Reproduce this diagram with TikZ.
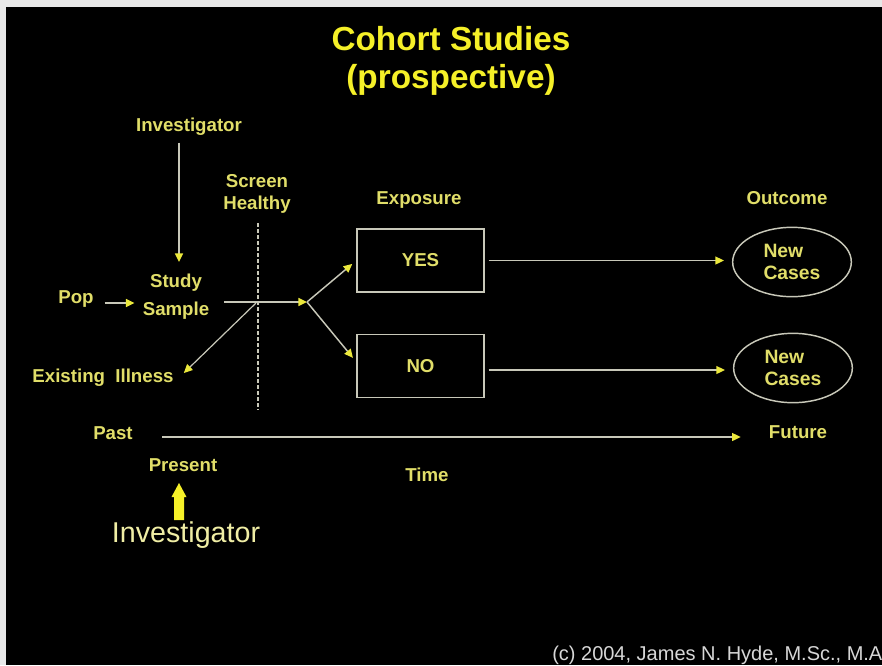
\documentclass[tikz,border=0pt]{standalone}
\usepackage{fontspec}
\setmainfont{Liberation Sans}
\usetikzlibrary{arrows.meta,shapes.geometric}
\definecolor{frame}{RGB}{232,232,232}
\definecolor{ttl}{RGB}{245,240,40}
\definecolor{lbl}{RGB}{225,222,105}
\definecolor{bigy}{RGB}{240,238,165}
\definecolor{ln}{RGB}{200,200,185}
\definecolor{tipy}{RGB}{235,232,60}
\definecolor{cpy}{RGB}{215,215,215}
\begin{document}
\begin{tikzpicture}[x=0.75pt,y=-0.75pt,
  lab/.style={text=lbl,font=\bfseries\fontsize{14}{15.75}\selectfont,inner sep=0pt,align=center},
  conn/.style={draw=ln,line width=1.1pt,-{Triangle[length=6.5pt,width=6pt,color=tipy]}},
  expbox/.style={draw=ln,line width=1.2pt,minimum width=95pt,minimum height=47pt,inner sep=0pt,
    text=lbl,font=\bfseries\fontsize{14}{16}\selectfont},
  outc/.style={ellipse,draw=ln,line width=1.1pt,minimum width=89pt,minimum height=52pt,inner sep=0pt,
    text=lbl,align=left,font=\bfseries\fontsize{14.5}{16}\selectfont}]
\useasboundingbox (0,0) rectangle (882,665);
\clip (0,0) rectangle (882,665);
\fill[frame] (0,0) rectangle (882,665);
\fill[black] (6,7) rectangle (882,665);
% title
\node[text=ttl,font=\bfseries\fontsize{25}{28}\selectfont,align=center,inner sep=0pt] (title) at (451,61) {Cohort Studies\\(prospective)};
% labels
\node[lab] (inv) at (189,127) {Investigator};
\node[lab,font=\bfseries\fontsize{14}{21}\selectfont] (study) at (176,297) {Study\\Sample};
\node[lab] (pop) at (76,299) {Pop};
\node[lab,font=\bfseries\fontsize{14}{16.5}\selectfont] (screen) at (257,194) {Screen\\Healthy};
\node[lab] (ill) at (103,378) {Existing\ \ Illness};
\node[lab] (expo) at (419,200) {Exposure};
\node[lab] (outcome) at (787,198) {Outcome};
\node[expbox] (yes) at (420.5,260.5) {YES};
\node[expbox] (no) at (420.5,366) {NO};
\node[outc] (e1) at (792,262) {New\\Cases};
\node[outc] (e2) at (793,368) {New\\Cases};
\node[lab] (past) at (113,433) {Past};
\node[lab] (future) at (798,432) {Future};
\node[lab] (present) at (183,465) {Present};
\node[lab] (time) at (427,475) {Time};
\node[text=bigy,font=\fontsize{21.5}{24}\selectfont,inner sep=0pt] (bigInv) at (186,535) {Investigator};
\node[text=cpy,font=\fontsize{15}{17}\selectfont,inner sep=0pt,anchor=west] (copyr) at (552,655) {(c) 2004, James N. Hyde, M.Sc., M.A};
% coordinates
\coordinate (dtop) at (258,223);
\coordinate (dbot) at (258,410);
\coordinate (cross) at (256,303);
\coordinate (br) at (307,302);
% screen line
\draw[ln,line width=1pt,dash pattern=on 3pt off 1.5pt] (dtop) -- (dbot);
% connectors
\draw[conn,shorten <=5pt,shorten >=9pt] ([xshift=-7.5pt]inv.south) -- ([xshift=2.25pt]study.north);
\draw[conn,shorten <=8pt,shorten >=6pt] ([yshift=-3pt]pop.east) -- ([yshift=-3pt]pop.east -| study.west);
\draw[conn,shorten <=11pt] ([yshift=-3.75pt]study.east) -- (br);
\draw[conn,line width=0.9pt] (cross) -- ([xshift=7.5pt,yshift=3.75pt]ill.east);
\draw[conn,shorten >=4pt] (br) -- (yes.west);
\draw[conn,shorten >=4pt] (br) -- ([yshift=3pt]no.west);
\draw[conn,shorten <=3pt,shorten >=6pt] (yes.east) -- (yes.east -| e1.west);
\draw[conn,shorten <=3pt,shorten >=6pt] ([yshift=-3pt]no.east) -- ([yshift=-3pt]no.east -| e2.west);
\draw[conn,shorten <=22pt,shorten >=21pt] ([yshift=-3pt]past.east) -- ([yshift=-3pt]past.east -| future.west);
% block arrow
\fill[ttl] (174,520) -- (174,497) -- (171.5,497) -- (179,483) -- (186.5,497) -- (184,497) -- (184,520) -- cycle;
\end{tikzpicture}
\end{document}
